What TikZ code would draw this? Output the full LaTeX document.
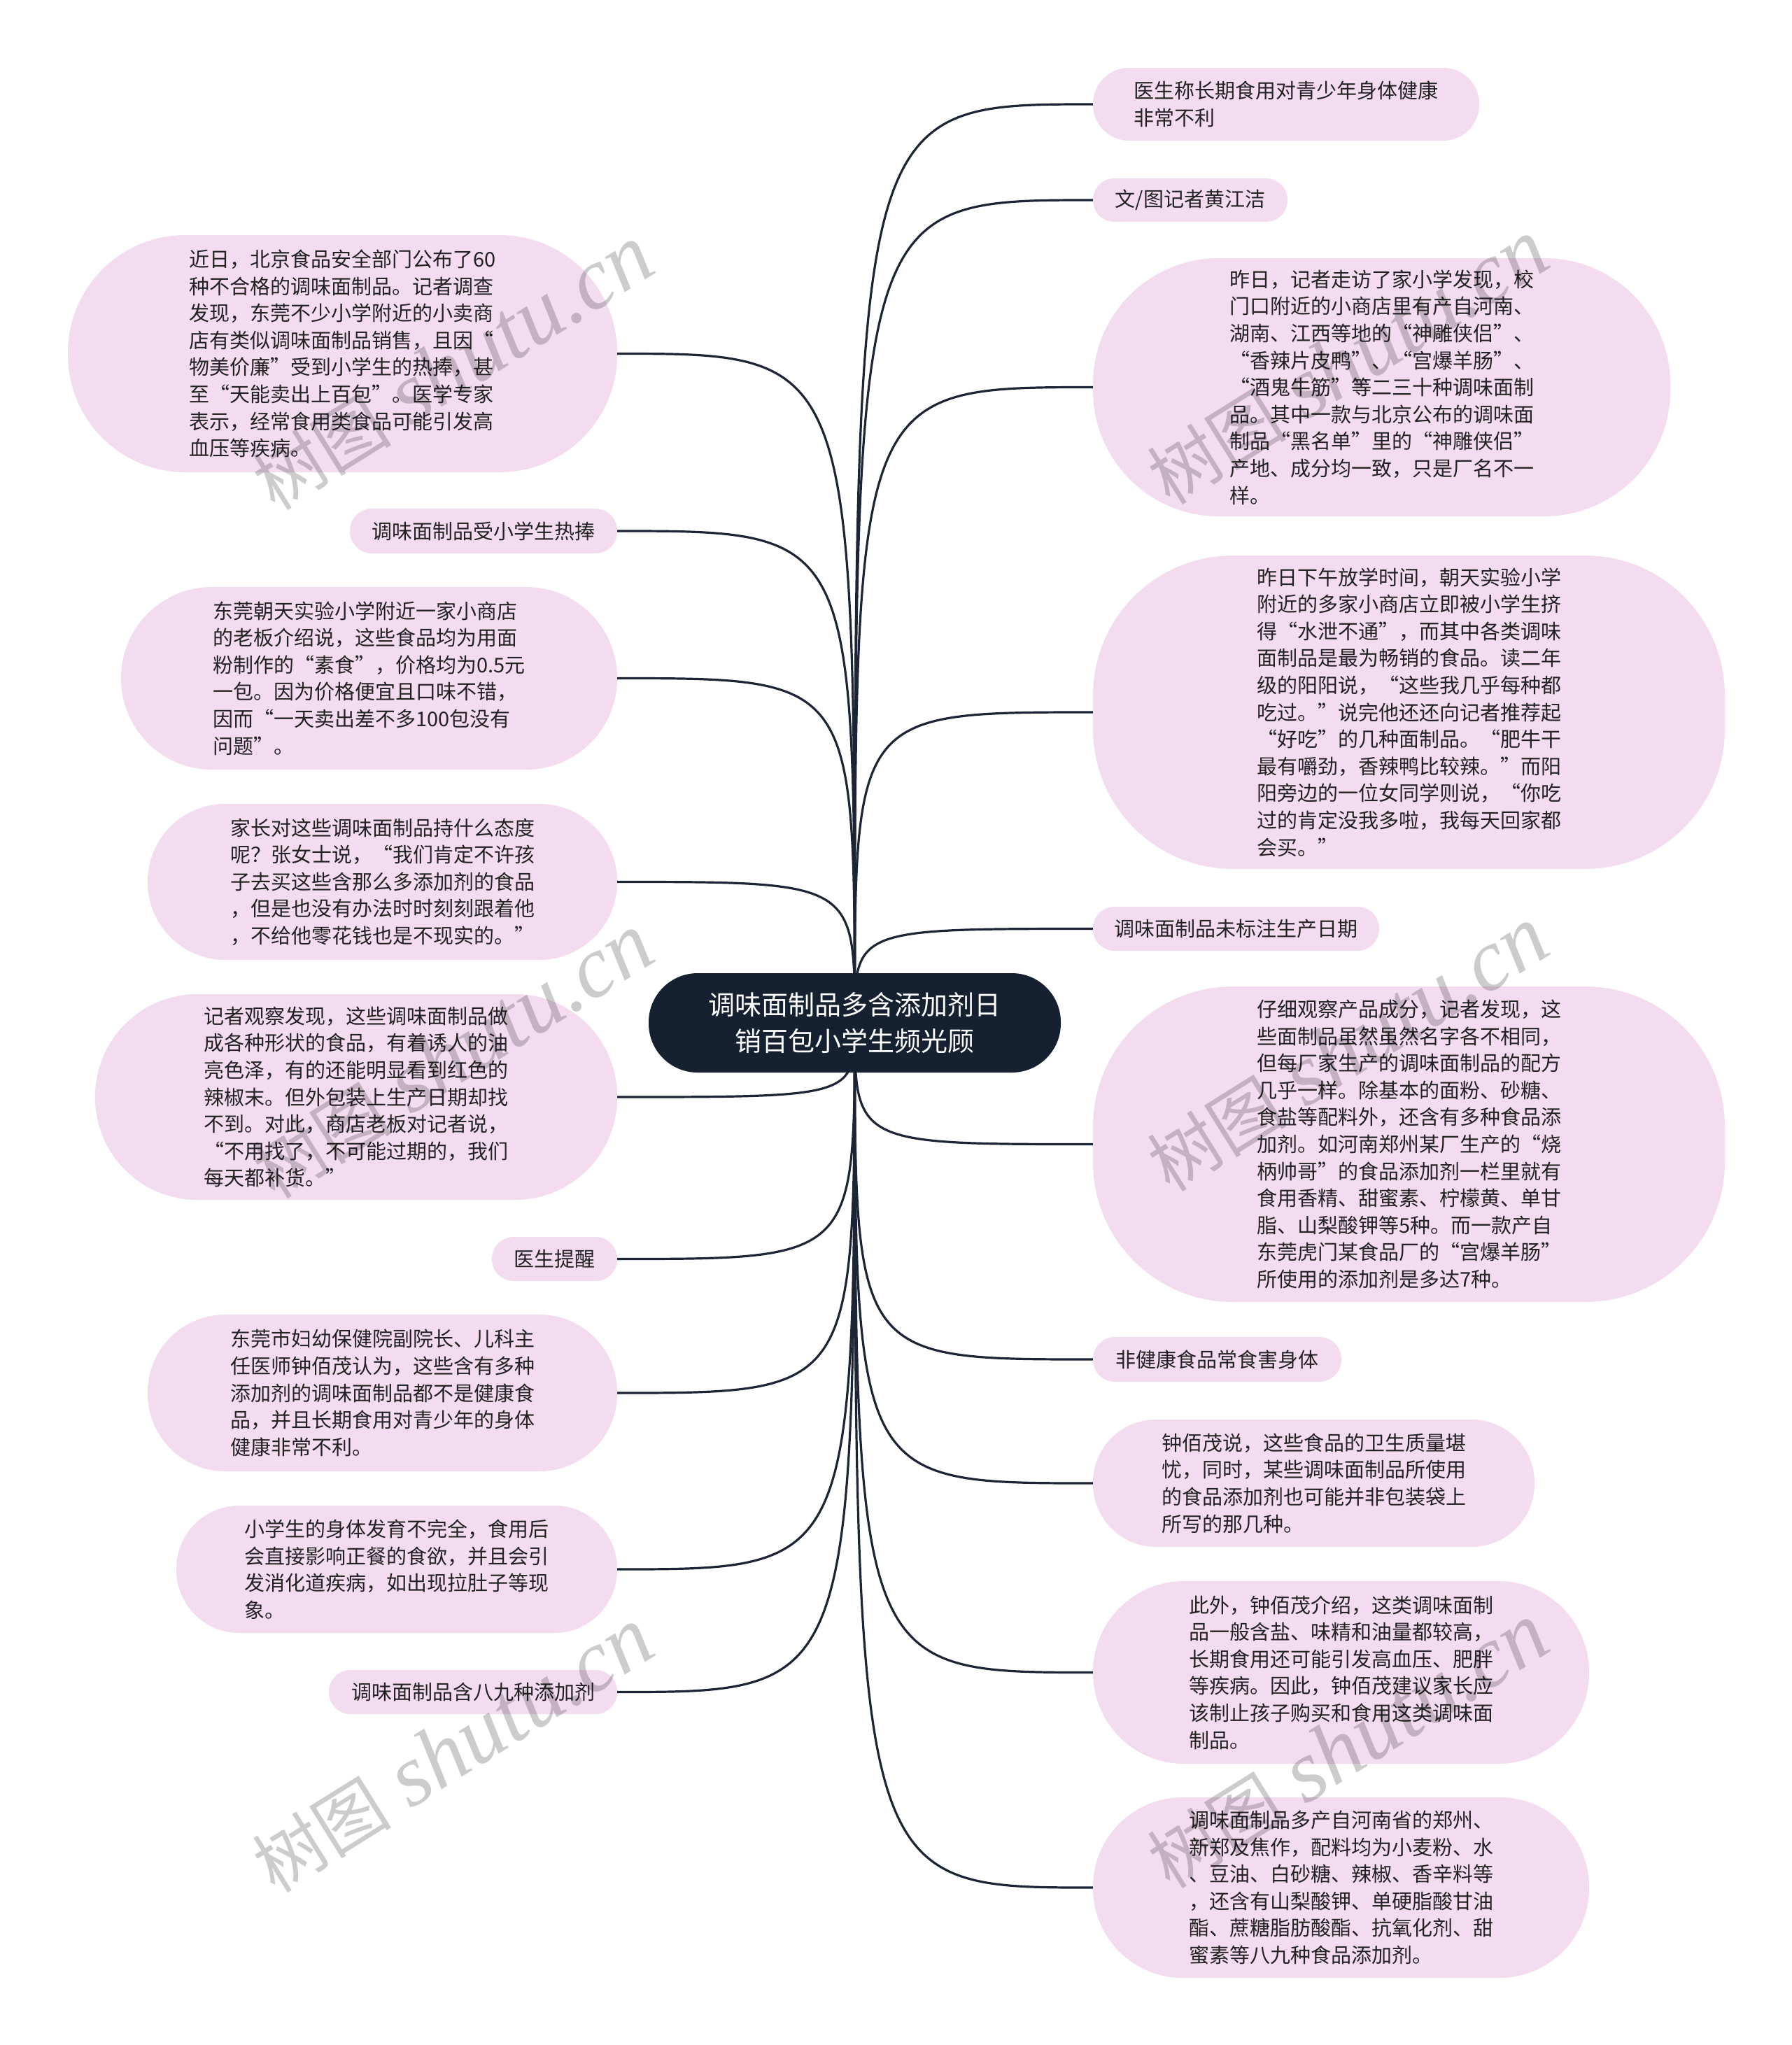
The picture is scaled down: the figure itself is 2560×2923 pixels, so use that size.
\documentclass[tikz,border=0pt]{standalone}
\usepackage{fontspec}
\setmainfont{Noto Sans CJK SC}
\newfontfamily\wmserif{Liberation Serif}
\newfontfamily\wmcjk{Noto Sans CJK SC}
\definecolor{pinkbox}{HTML}{F4DCF0}
\definecolor{navybox}{HTML}{152131}
\definecolor{linec}{HTML}{1C2535}
\definecolor{textc}{HTML}{222222}
\tikzset{
  leaf/.style={fill=pinkbox, draw=none, align=left, inner sep=0pt, text=textc,
    font=\fontsize{29}{38.6}\selectfont},
  rootbox/.style={fill=navybox, draw=none, align=center, inner sep=0pt, text=white,
    font=\fontsize{38}{52}\selectfont, minimum width=589pt, minimum height=142pt, rounded corners=70pt},
  conn/.style={draw=linec, line width=3.2pt},
  wmark/.style={text=black, text opacity=0.2, rotate=32, inner sep=0pt}
}
\begin{document}
\begin{tikzpicture}[x=1pt,y=-1pt]
\fill[white] (0,0) rectangle (2560,2923);
\useasboundingbox (0,0) rectangle (2560,2923);

% ---------- right nodes ----------
\node[leaf, minimum width=552pt, minimum height=104pt, rounded corners=51.5pt] (r1) at (1838,149)
 {医生称长期食用对青少年身体健康\\非常不利};
\node[leaf, minimum width=278pt, minimum height=62pt, rounded corners=30.5pt] (r2) at (1701,286)
 {文/图记者黄江洁};
\node[leaf, minimum width=825pt, minimum height=369pt, rounded corners=180pt] (r3) at (1974.5,553.5)
 {昨日，记者走访了家小学发现，校\\门口附近的小商店里有产自河南、\\湖南、江西等地的“神雕侠侣”、\\“香辣片皮鸭”、“宫爆羊肠”、\\“酒鬼牛筋”等二三十种调味面制\\品。其中一款与北京公布的调味面\\制品“黑名单”里的“神雕侠侣”\\产地、成分均一致，只是厂名不一\\样。};
\node[leaf, minimum width=903pt, minimum height=448pt, rounded corners=200pt] (r4) at (2013.5,1018)
 {昨日下午放学时间，朝天实验小学\\附近的多家小商店立即被小学生挤\\得“水泄不通”，而其中各类调味\\面制品是最为畅销的食品。读二年\\级的阳阳说，“这些我几乎每种都\\吃过。”说完他还还向记者推荐起\\“好吃”的几种面制品。“肥牛干\\最有嚼劲，香辣鸭比较辣。”而阳\\阳旁边的一位女同学则说，“你吃\\过的肯定没我多啦，我每天回家都\\会买。”};
\node[leaf, minimum width=409pt, minimum height=63pt, rounded corners=31pt] (r5) at (1766.5,1327.5)
 {调味面制品未标注生产日期};
\node[leaf, minimum width=903pt, minimum height=451pt, rounded corners=200pt] (r6) at (2013.5,1635.5)
 {仔细观察产品成分，记者发现，这\\些面制品虽然虽然名字各不相同，\\但每厂家生产的调味面制品的配方\\几乎一样。除基本的面粉、砂糖、\\食盐等配料外，还含有多种食品添\\加剂。如河南郑州某厂生产的“烧\\柄帅哥”的食品添加剂一栏里就有\\食用香精、甜蜜素、柠檬黄、单甘\\脂、山梨酸钾等5种。而一款产自\\东莞虎门某食品厂的“宫爆羊肠”\\所使用的添加剂是多达7种。};
\node[leaf, minimum width=355pt, minimum height=64pt, rounded corners=31.5pt] (r7) at (1739.5,1943)
 {非健康食品常食害身体};
\node[leaf, minimum width=631pt, minimum height=182pt, rounded corners=90pt] (r8) at (1877.5,2120)
 {钟佰茂说，这些食品的卫生质量堪\\忧，同时，某些调味面制品所使用\\的食品添加剂也可能并非包装袋上\\所写的那几种。};
\node[leaf, minimum width=709pt, minimum height=261pt, rounded corners=130pt] (r9) at (1916.5,2390.5)
 {此外，钟佰茂介绍，这类调味面制\\品一般含盐、味精和油量都较高，\\长期食用还可能引发高血压、肥胖\\等疾病。因此，钟佰茂建议家长应\\该制止孩子购买和食用这类调味面\\制品。};
\node[leaf, minimum width=709pt, minimum height=258pt, rounded corners=128pt] (r10) at (1916.5,2698)
 {调味面制品多产自河南省的郑州、\\新郑及焦作，配料均为小麦粉、水\\、豆油、白砂糖、辣椒、香辛料等\\，还含有山梨酸钾、单硬脂酸甘油\\酯、蔗糖脂肪酸酯、抗氧化剂、甜\\蜜素等八九种食品添加剂。};

% ---------- left nodes ----------
\node[leaf, minimum width=785pt, minimum height=339pt, rounded corners=168pt] (l1) at (489.5,505.5)
 {近日，北京食品安全部门公布了60\\种不合格的调味面制品。记者调查\\发现，东莞不少小学附近的小卖商\\店有类似调味面制品销售，且因“\\物美价廉”受到小学生的热捧，甚\\至“天能卖出上百包”。医学专家\\表示，经常食用类食品可能引发高\\血压等疾病。};
\node[leaf, minimum width=382pt, minimum height=64pt, rounded corners=31.5pt] (l2) at (691,759)
 {调味面制品受小学生热捧};
\node[leaf, minimum width=709pt, minimum height=261pt, rounded corners=130pt] (l3) at (527.5,969.5)
 {东莞朝天实验小学附近一家小商店\\的老板介绍说，这些食品均为用面\\粉制作的“素食”，价格均为0.5元\\一包。因为价格便宜且口味不错，\\因而“一天卖出差不多100包没有\\问题”。};
\node[leaf, minimum width=671pt, minimum height=223pt, rounded corners=111pt] (l4) at (546.5,1260.5)
 {家长对这些调味面制品持什么态度\\呢？张女士说，“我们肯定不许孩\\子去买这些含那么多添加剂的食品\\，但是也没有办法时时刻刻跟着他\\，不给他零花钱也是不现实的。”};
\node[leaf, minimum width=746pt, minimum height=294pt, rounded corners=146pt] (l5) at (509,1568)
 {记者观察发现，这些调味面制品做\\成各种形状的食品，有着诱人的油\\亮色泽，有的还能明显看到红色的\\辣椒末。但外包装上生产日期却找\\不到。对此，商店老板对记者说，\\“不用找了，不可能过期的，我们\\每天都补货。”};
\node[leaf, minimum width=179pt, minimum height=63pt, rounded corners=31pt] (l6) at (792.5,1799.5)
 {医生提醒};
\node[leaf, minimum width=671pt, minimum height=224pt, rounded corners=111pt] (l7) at (546.5,1991)
 {东莞市妇幼保健院副院长、儿科主\\任医师钟佰茂认为，这些含有多种\\添加剂的调味面制品都不是健康食\\品，并且长期食用对青少年的身体\\健康非常不利。};
\node[leaf, minimum width=630pt, minimum height=182pt, rounded corners=90pt] (l8) at (567,2243)
 {小学生的身体发育不完全，食用后\\会直接影响正餐的食欲，并且会引\\发消化道疾病，如出现拉肚子等现\\象。};
\node[leaf, minimum width=412pt, minimum height=63pt, rounded corners=31pt] (l9) at (676,2418.5)
 {调味面制品含八九种添加剂};

% ---------- root ----------
\coordinate (cc) at (1221.5,1462);
\foreach \n in {r1,r2,r3,r4,r5,r6,r7,r8,r9,r10}
  \draw[conn] (cc) .. controls (cc |- \n.west) .. (\n.west);
\foreach \n in {l1,l2,l3,l4,l5,l6,l7,l8,l9}
  \draw[conn] (cc) .. controls (cc |- \n.east) .. (\n.east);
\node[rootbox] (root) at (cc) {调味面制品多含添加剂日\\销百包小学生频光顾};

% ---------- watermarks ----------
\foreach \wx/\wy [count=\i] in {647/526, 1926/518, 647/1510, 1926/1500, 647/2502, 1926/2496}
  \node[wmark] (wm\i) at (\wx,\wy) {{\wmcjk\fontsize{100}{100}\selectfont 树图}\hspace{28pt}{\wmserif\itshape\fontsize{125}{125}\selectfont shutu.cn}};
\end{tikzpicture}
\end{document}
